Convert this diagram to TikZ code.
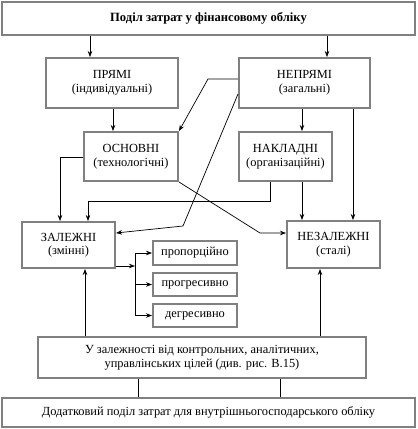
\documentclass[tikz,border=0pt]{standalone}
\usepackage{fontspec}
\setmainfont{Liberation Serif}
\usetikzlibrary{arrows.meta}
\begin{document}
\begin{tikzpicture}[x=1pt, y=-1pt,
    box/.style={draw=gray, line width=2pt, align=center, font=\fontsize{12.4}{13.5}\selectfont, inner sep=1pt},
    arr/.style={-{Stealth[length=6pt, width=4.5pt]}, line width=0.7pt},
    link/.style={line width=0.7pt}]
    \useasboundingbox (0,0) rectangle (418,429);

    % ---- top and bottom headers ----
    \node[box, minimum width=413pt, minimum height=33pt, font=\fontsize{12.6}{13.5}\selectfont\bfseries] (fin) at (208.5,18.5) {Поділ затрат у фінансовому обліку};
    \node[box, minimum width=413pt, minimum height=29pt] (extra) at (208.5,412.5) {Додатковий поділ затрат для внутрішньогосподарського обліку};

    % ---- cost groups ----
    \node[box, minimum width=132pt, minimum height=50pt] (direct) at (112,83) {ПРЯМІ\\(індивідуальні)};
    \node[box, minimum width=131pt, minimum height=50pt] (indirect) at (304.5,83) {НЕПРЯМІ\\(загальні)};
    \node[box, minimum width=94pt, minimum height=49pt] (basic) at (131,156.5) {ОСНОВНІ\\(технологічні)};
    \node[box, minimum width=93pt, minimum height=49pt] (overhead) at (285.5,156.5) {НАКЛАДНІ\\(організаційні)};
    \node[box, minimum width=93pt, minimum height=46pt] (dep) at (68.5,245) {ЗАЛЕЖНІ\\(змінні)};
    \node[box, minimum width=93pt, minimum height=47pt] (indep) at (333.5,244.5) {НЕЗАЛЕЖНІ\\(сталі)};

    % ---- kinds of variable costs ----
    \node[box, minimum width=84pt, minimum height=24pt] (prop) at (195,253) {пропорційно};
    \node[box, minimum width=84pt, minimum height=23pt] (prog) at (195,284.5) {прогресивно};
    \node[box, minimum width=84pt, minimum height=23pt] (degr) at (195,315.5) {дегресивно};

    % ---- management purposes ----
    \node[box, minimum width=328pt, minimum height=41pt] (goal) at (202,357.5) {У залежності від контрольних, аналітичних,\\управлінських цілей (див. рис. В.15)};

    % ---- connectors from the top ----
    \draw[arr] (90,0 |- fin.south) -- (90,0 |- direct.north);
    \draw[arr] (327,0 |- fin.south) -- (327,0 |- indirect.north);
    \draw[arr] (113,0 |- direct.south) -- (113,0 |- basic.north);
    \draw[arr] (302,0 |- indirect.south) -- (302,0 |- overhead.north);
    \draw[arr] (353,0 |- indirect.south) -- (353,0 |- indep.north);
    \draw[arr] (indirect.west |- 0,79) -- (208,79) -- (basic.north east);
    \draw[arr] (indirect.west |- 0,94) -- (183,226) -- (dep.east |- 0,233);

    % ---- connectors to dependent / independent ----
    \draw[arr] (basic.west |- 0,157) -- (60,157) -- (60,0 |- dep.north);
    \draw[arr] (270,0 |- overhead.south) -- (270,201) -- (88,201) -- (88,0 |- dep.north);
    \draw[arr] (302,0 |- overhead.south) -- (302,0 |- indep.north);
    \draw[arr] (basic.south east) -- (260,233) -- (indep.west |- 0,233);

    % ---- fork to the kinds ----
    \coordinate (fork) at (135,266);
    \draw[arr] (dep.east |- fork) -- (fork);
    \draw[link] (fork |- prop.west) -- (fork |- degr.west);
    \draw[arr] (fork |- prop.west) -- (prop.west);
    \draw[arr] (fork |- prog.west) -- (prog.west);
    \draw[arr] (fork |- degr.west) -- (degr.west);

    % ---- from the purposes box ----
    \draw[arr] (85,0 |- goal.north) -- (85,0 |- dep.south);
    \draw[arr] (320,0 |- goal.north) -- (320,0 |- indep.south);
    \draw[link] (138,0 |- extra.north) -- (138,0 |- goal.south);
    \draw[link] (280,0 |- extra.north) -- (280,0 |- goal.south);
\end{tikzpicture}
\end{document}
